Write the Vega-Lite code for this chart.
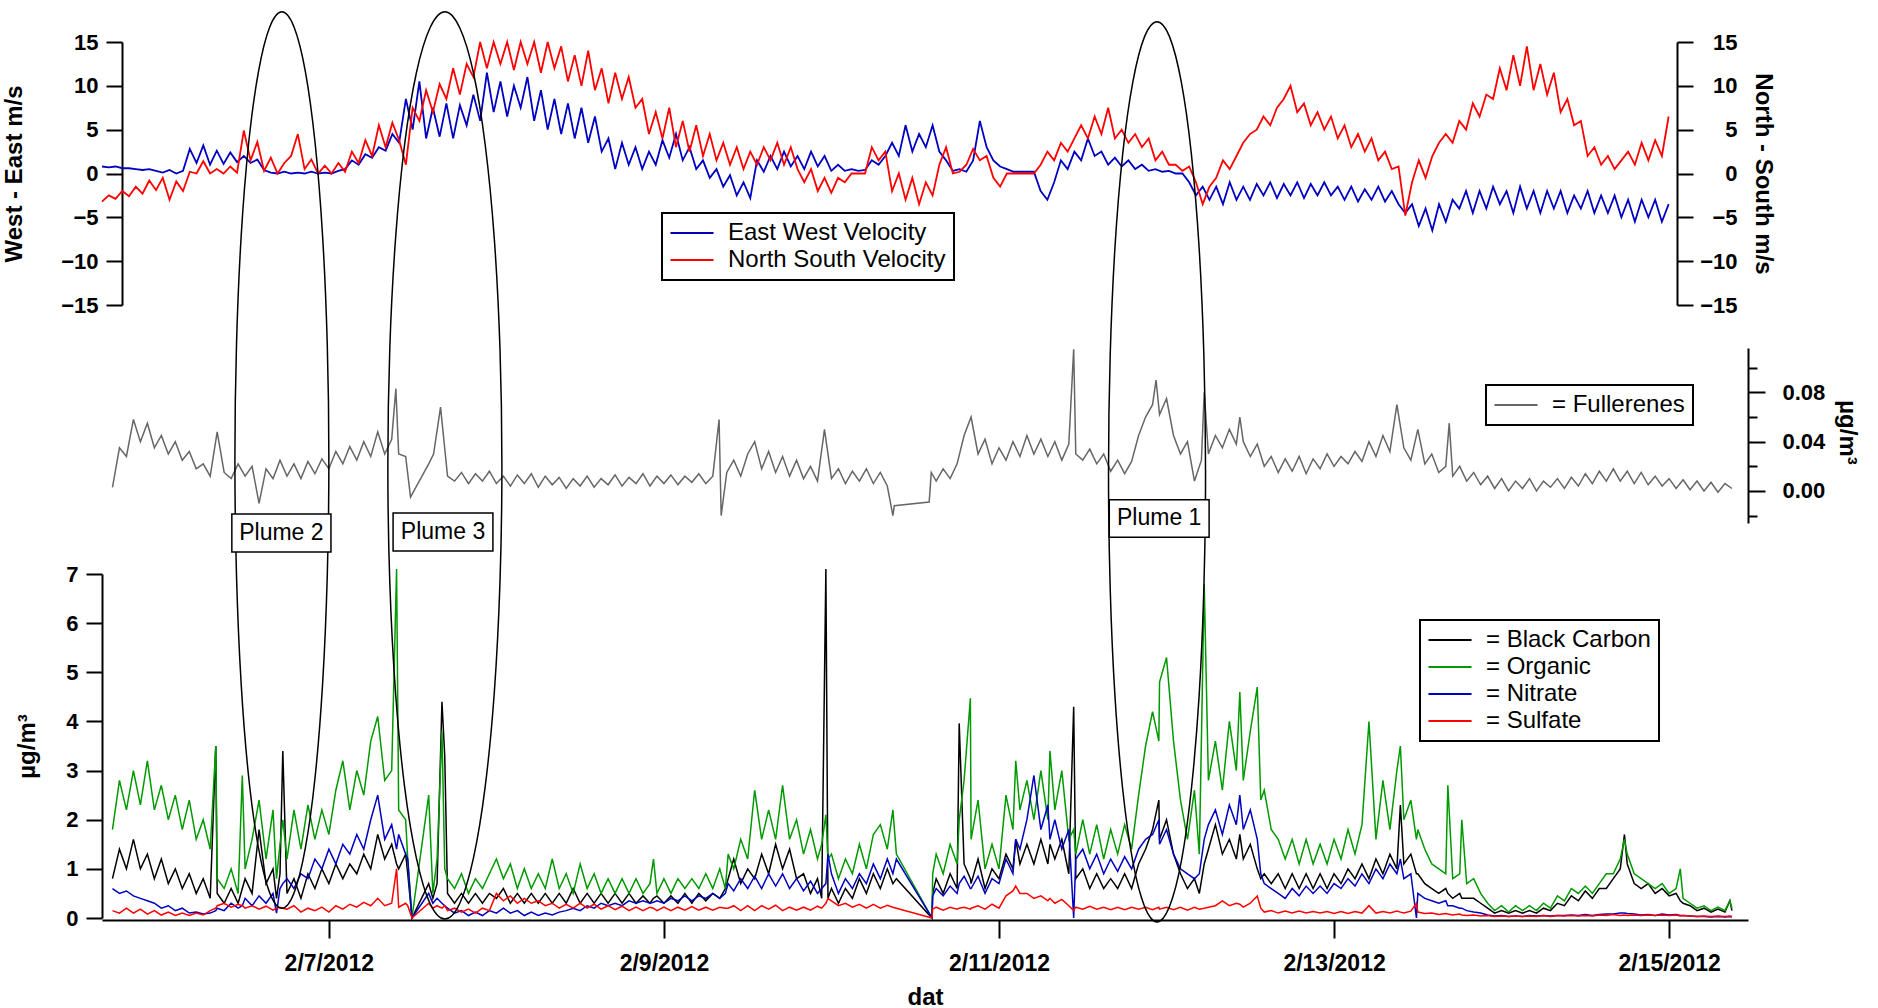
{
  "$schema": "https://vega.github.io/schema/vega-lite/v6.json",
  "width": 1878,
  "height": 1008,
  "autosize": {"type": "none"},
  "padding": 0,
  "background": "white",
  "config": {
    "view": {"stroke": null},
    "axis": {
      "grid": false,
      "domainColor": "black",
      "domainWidth": 2,
      "tickColor": "black",
      "tickWidth": 2,
      "tickSize": 16,
      "labelColor": "black",
      "labelFont": "Liberation Sans",
      "labelFontWeight": "bold",
      "labelFontSize": 22,
      "labelOverlap": false,
      "labelFlush": false,
      "titleColor": "black",
      "titleFont": "Liberation Sans",
      "titleFontWeight": "bold",
      "titleFontSize": 24
    },
    "legend": {
      "labelFont": "Liberation Sans",
      "labelFontSize": 24,
      "labelColor": "black",
      "labelLimit": 0,
      "strokeColor": "black",
      "strokeWidth": 2,
      "fillColor": "white",
      "padding": 8,
      "rowPadding": 3,
      "symbolType": "M-4,0H4",
      "symbolSize": 116,
      "symbolStrokeWidth": 2,
      "symbolOffset": 10,
      "labelOffset": 24
    }
  },
  "datasets": {
    "wind": [
      {"h":17,"e":0.8,"n":-3.2},{"h":18,"e":0.7,"n":-2.5},{"h":19,"e":0.8,"n":-2.9},{"h":20,"e":0.6,"n":-2.0},{"h":21,"e":0.6,"n":-2.6},{"h":22,"e":0.5,"n":-1.5},{"h":23,"e":0.4,"n":-2.3},{"h":24,"e":0.5,"n":-0.8},{"h":25,"e":0.3,"n":-1.9},{"h":26,"e":0.1,"n":-0.5},
      {"h":27,"e":0.4,"n":-3.0},{"h":28,"e":0.0,"n":-0.9},{"h":29,"e":0.3,"n":-2.0},{"h":30,"e":2.8,"n":0.2},{"h":31,"e":1.2,"n":0.0},{"h":32,"e":3.2,"n":1.4},{"h":33,"e":1.0,"n":0.0},{"h":34,"e":2.6,"n":0.5},{"h":35,"e":1.1,"n":0.0},{"h":36,"e":2.4,"n":0.8},
      {"h":37,"e":1.3,"n":0.1},{"h":38,"e":2.0,"n":4.9},{"h":39,"e":1.2,"n":1.5},{"h":40,"e":1.6,"n":3.6},{"h":41,"e":0.4,"n":0.3},{"h":42,"e":0.1,"n":1.8},{"h":43,"e":0.0,"n":0.0},{"h":44,"e":0.2,"n":1.2},{"h":45,"e":0.0,"n":2.0},{"h":46,"e":0.1,"n":4.5},
      {"h":47,"e":0.0,"n":0.5},{"h":48,"e":0.2,"n":1.6},{"h":49,"e":0.0,"n":0.0},{"h":50,"e":0.1,"n":0.9},{"h":51,"e":0.0,"n":0.0},{"h":52,"e":0.3,"n":1.2},{"h":53,"e":0.5,"n":0.2},{"h":54,"e":1.5,"n":2.5},{"h":55,"e":1.0,"n":1.2},{"h":56,"e":2.2,"n":3.8},
      {"h":57,"e":1.8,"n":2.0},{"h":58,"e":3.0,"n":5.5},{"h":59,"e":2.6,"n":3.0},{"h":60,"e":4.5,"n":5.8},{"h":61,"e":3.5,"n":3.8},{"h":62,"e":8.5,"n":1.0},{"h":63,"e":5.0,"n":7.5},{"h":64,"e":10.5,"n":6.0},{"h":65,"e":4.0,"n":9.5},{"h":66,"e":7.5,"n":7.0},
      {"h":67,"e":4.2,"n":10.2},{"h":68,"e":8.0,"n":8.5},{"h":69,"e":4.0,"n":12.0},{"h":70,"e":7.8,"n":9.0},{"h":71,"e":5.5,"n":12.5},{"h":72,"e":9.0,"n":11.0},{"h":73,"e":6.0,"n":15},{"h":74,"e":11.5,"n":12.0},{"h":75,"e":7.0,"n":15},{"h":76,"e":10.5,"n":12.5},
      {"h":77,"e":6.5,"n":15},{"h":78,"e":10.0,"n":11.8},{"h":79,"e":7.5,"n":15},{"h":80,"e":11.0,"n":12.5},{"h":81,"e":6.0,"n":15},{"h":82,"e":9.5,"n":11.5},{"h":83,"e":5.0,"n":15},{"h":84,"e":8.5,"n":12.0},{"h":85,"e":4.5,"n":14.5},{"h":86,"e":8.0,"n":10.5},
      {"h":87,"e":4.0,"n":13.5},{"h":88,"e":7.5,"n":10.0},{"h":89,"e":3.5,"n":14.0},{"h":90,"e":6.5,"n":9.5},{"h":91,"e":2.5,"n":12.0},{"h":92,"e":4.0,"n":8.0},{"h":93,"e":0.5,"n":11.5},{"h":94,"e":3.5,"n":8.5},{"h":95,"e":1.0,"n":11.0},{"h":96,"e":3.0,"n":7.5},
      {"h":97,"e":0.5,"n":8.5},{"h":98,"e":2.5,"n":4.5},{"h":99,"e":1.0,"n":7.0},{"h":100,"e":3.8,"n":4.0},{"h":101,"e":1.8,"n":7.5},{"h":102,"e":4.5,"n":3.0},{"h":103,"e":1.5,"n":6.0},{"h":104,"e":3.0,"n":2.5},{"h":105,"e":0.5,"n":5.5},{"h":106,"e":1.5,"n":2.0},
      {"h":107,"e":-0.5,"n":4.5},{"h":108,"e":0.5,"n":1.5},{"h":109,"e":-1.5,"n":3.5},{"h":110,"e":-0.2,"n":1.0},{"h":111,"e":-2.5,"n":3.0},{"h":112,"e":-1.0,"n":0.5},{"h":113,"e":-2.8,"n":2.5},{"h":114,"e":1.5,"n":1.0},{"h":115,"e":0.2,"n":3.0},{"h":116,"e":2.0,"n":1.5},
      {"h":117,"e":0.5,"n":3.5},{"h":118,"e":2.5,"n":1.0},{"h":119,"e":0.8,"n":3.0},{"h":120,"e":2.0,"n":0.5},{"h":121,"e":0.5,"n":-1.0},{"h":122,"e":2.5,"n":0.5},{"h":123,"e":0.8,"n":-2.0},{"h":124,"e":2.0,"n":-0.5},{"h":125,"e":0.3,"n":-2.2},{"h":126,"e":1.0,"n":-0.5},
      {"h":127,"e":0.3,"n":-1.0},{"h":128,"e":0.5,"n":0.0},{"h":129,"e":0.3,"n":0.0},{"h":130,"e":0.4,"n":0.0},{"h":131,"e":1.5,"n":3.0},{"h":132,"e":1.0,"n":1.5},{"h":133,"e":2.0,"n":2.5},{"h":134,"e":3.5,"n":-2.0},{"h":135,"e":2.0,"n":0.0},{"h":136,"e":5.5,"n":-3.0},
      {"h":137,"e":2.5,"n":-0.5},{"h":138,"e":4.5,"n":-3.5},{"h":139,"e":3.0,"n":-1.0},{"h":140,"e":5.5,"n":-2.5},{"h":141,"e":2.5,"n":1.0},{"h":142,"e":1.5,"n":3.0},{"h":143,"e":0.3,"n":0.0},{"h":144,"e":0.5,"n":0.2},{"h":145,"e":0.2,"n":1.0},{"h":146,"e":1.5,"n":2.8},
      {"h":147,"e":6.0,"n":1.5},{"h":148,"e":3.0,"n":2.0},{"h":149,"e":1.5,"n":-0.5},{"h":150,"e":0.8,"n":-1.5},{"h":151,"e":0.5,"n":0.0},{"h":152,"e":0.2,"n":0.0},{"h":153,"e":0.2,"n":0.0},{"h":154,"e":0.2,"n":0.0},{"h":155,"e":0.2,"n":0.0},{"h":156,"e":-2.0,"n":1.0},
      {"h":157,"e":-3.0,"n":2.5},{"h":158,"e":-1.0,"n":1.5},{"h":159,"e":1.5,"n":3.5},{"h":160,"e":0.5,"n":2.5},{"h":161,"e":2.5,"n":4.0},{"h":162,"e":1.5,"n":5.5},{"h":163,"e":4.0,"n":4.0},{"h":164,"e":2.0,"n":6.5},{"h":165,"e":2.5,"n":4.5},{"h":166,"e":1.0,"n":7.5},
      {"h":167,"e":1.8,"n":4.0},{"h":168,"e":0.8,"n":5.0},{"h":169,"e":1.5,"n":3.5},{"h":170,"e":0.5,"n":4.5},{"h":171,"e":1.0,"n":3.0},{"h":172,"e":0.3,"n":4.0},{"h":173,"e":0.5,"n":1.5},{"h":174,"e":0.2,"n":2.5},{"h":175,"e":0.3,"n":1.0},{"h":176,"e":0.0,"n":1.0},
      {"h":177,"e":0.0,"n":0.3},{"h":178,"e":-1.0,"n":0.8},{"h":179,"e":-2.5,"n":-1.0},{"h":180,"e":-1.5,"n":-3.5},{"h":181,"e":-3.0,"n":-1.5},{"h":182,"e":-1.5,"n":-0.5},{"h":183,"e":-3.5,"n":1.5},{"h":184,"e":-1.0,"n":0.5},{"h":185,"e":-3.0,"n":2.0},{"h":186,"e":-1.5,"n":3.5},
      {"h":187,"e":-3.0,"n":4.5},{"h":188,"e":-1.2,"n":5.0},{"h":189,"e":-2.5,"n":6.5},{"h":190,"e":-1.0,"n":5.5},{"h":191,"e":-2.8,"n":7.5},{"h":192,"e":-1.2,"n":8.5},{"h":193,"e":-2.5,"n":10.0},{"h":194,"e":-1.0,"n":7.0},{"h":195,"e":-2.8,"n":8.0},{"h":196,"e":-1.2,"n":5.5},
      {"h":197,"e":-2.5,"n":7.0},{"h":198,"e":-1.0,"n":5.0},{"h":199,"e":-2.5,"n":6.5},{"h":200,"e":-1.5,"n":4.0},{"h":201,"e":-3.0,"n":5.5},{"h":202,"e":-1.5,"n":3.0},{"h":203,"e":-3.2,"n":4.5},{"h":204,"e":-1.8,"n":2.5},{"h":205,"e":-3.0,"n":4.0},{"h":206,"e":-1.5,"n":1.5},
      {"h":207,"e":-3.2,"n":2.5},{"h":208,"e":-2.0,"n":0.5},{"h":209,"e":-3.5,"n":0.8},{"h":210,"e":-4.5,"n":-4.8},{"h":211,"e":-3.5,"n":-1.0},{"h":212,"e":-6.0,"n":1.5},{"h":213,"e":-4.0,"n":-0.5},{"h":214,"e":-6.5,"n":2.0},{"h":215,"e":-3.5,"n":3.5},{"h":216,"e":-5.5,"n":4.5},
      {"h":217,"e":-3.0,"n":3.5},{"h":218,"e":-4.0,"n":6.0},{"h":219,"e":-2.0,"n":5.0},{"h":220,"e":-4.5,"n":8.0},{"h":221,"e":-2.0,"n":6.5},{"h":222,"e":-4.0,"n":9.0},{"h":223,"e":-1.5,"n":8.5},{"h":224,"e":-3.5,"n":12.0},{"h":225,"e":-2.0,"n":9.5},{"h":226,"e":-4.5,"n":13.5},
      {"h":227,"e":-1.5,"n":10.0},{"h":228,"e":-4.0,"n":14.5},{"h":229,"e":-2.0,"n":9.5},{"h":230,"e":-4.5,"n":12.5},{"h":231,"e":-2.0,"n":9.0},{"h":232,"e":-4.0,"n":11.5},{"h":233,"e":-2.0,"n":7.0},{"h":234,"e":-4.5,"n":8.5},{"h":235,"e":-2.5,"n":5.5},{"h":236,"e":-4.0,"n":6.0},
      {"h":237,"e":-2.0,"n":2.0},{"h":238,"e":-4.5,"n":3.0},{"h":239,"e":-2.5,"n":1.0},{"h":240,"e":-4.5,"n":2.0},{"h":241,"e":-2.5,"n":0.5},{"h":242,"e":-5.0,"n":1.5},{"h":243,"e":-3.0,"n":2.5},{"h":244,"e":-5.5,"n":1.0},{"h":245,"e":-3.0,"n":3.5},{"h":246,"e":-5.0,"n":1.5},
      {"h":247,"e":-3.0,"n":3.8},{"h":248,"e":-5.5,"n":2.0},{"h":249,"e":-3.5,"n":6.5}
    ],
    "full": [
      {"h":17,"f":0.003},{"h":18,"f":0.035},{"h":19,"f":0.028},{"h":20,"f":0.058},{"h":21,"f":0.040},{"h":22,"f":0.055},{"h":23,"f":0.035},{"h":24,"f":0.045},{"h":25,"f":0.030},{"h":26,"f":0.040},
      {"h":27,"f":0.025},{"h":28,"f":0.032},{"h":29,"f":0.018},{"h":30,"f":0.022},{"h":31,"f":0.012},{"h":32,"f":0.048},{"h":33,"f":0.015},{"h":34,"f":0.010},{"h":35,"f":0.022},{"h":36,"f":0.012},
      {"h":37,"f":0.020},{"h":38,"f":-0.010},{"h":39,"f":0.018},{"h":40,"f":0.010},{"h":41,"f":0.025},{"h":42,"f":0.012},{"h":43,"f":0.022},{"h":44,"f":0.010},{"h":45,"f":0.024},{"h":46,"f":0.014},
      {"h":47,"f":0.026},{"h":48,"f":0.018},{"h":49,"f":0.032},{"h":50,"f":0.022},{"h":51,"f":0.036},{"h":52,"f":0.025},{"h":53,"f":0.040},{"h":54,"f":0.028},{"h":55,"f":0.048},{"h":56,"f":0.030},
      {"h":57,"f":0.042},{"h":57.6,"f":0.083},{"h":58,"f":0.030},{"h":59,"f":0.028},{"h":59.7,"f":-0.005},{"h":62.3,"f":0.022},{"h":63,"f":0.030},{"h":64,"f":0.068},{"h":65,"f":0.012},{"h":66,"f":0.008},
      {"h":67,"f":0.015},{"h":68,"f":0.006},{"h":69,"f":0.014},{"h":70,"f":0.008},{"h":71,"f":0.016},{"h":72,"f":0.006},{"h":73,"f":0.012},{"h":74,"f":0.004},{"h":75,"f":0.013},{"h":76,"f":0.006},
      {"h":77,"f":0.014},{"h":78,"f":0.003},{"h":79,"f":0.012},{"h":80,"f":0.005},{"h":81,"f":0.011},{"h":82,"f":0.002},{"h":83,"f":0.010},{"h":84,"f":0.004},{"h":85,"f":0.012},{"h":86,"f":0.003},
      {"h":87,"f":0.010},{"h":88,"f":0.005},{"h":89,"f":0.013},{"h":90,"f":0.004},{"h":91,"f":0.011},{"h":92,"f":0.006},{"h":93,"f":0.014},{"h":94,"f":0.004},{"h":95,"f":0.012},{"h":96,"f":0.006},
      {"h":97,"f":0.013},{"h":98,"f":0.005},{"h":99,"f":0.012},{"h":100,"f":0.007},{"h":101,"f":0.014},{"h":102,"f":0.006},{"h":103,"f":0.012},{"h":103.9,"f":0.058},{"h":104.2,"f":-0.020},{"h":105,"f":0.015},
      {"h":106,"f":0.025},{"h":107,"f":0.012},{"h":108,"f":0.030},{"h":109,"f":0.040},{"h":110,"f":0.018},{"h":111,"f":0.032},{"h":112,"f":0.015},{"h":113,"f":0.028},{"h":114,"f":0.012},{"h":115,"f":0.025},
      {"h":116,"f":0.010},{"h":117,"f":0.020},{"h":118,"f":0.008},{"h":119,"f":0.050},{"h":120,"f":0.010},{"h":121,"f":0.018},{"h":122,"f":0.006},{"h":123,"f":0.016},{"h":124,"f":0.008},{"h":125,"f":0.018},
      {"h":126,"f":0.006},{"h":127,"f":0.015},{"h":128,"f":0.004},{"h":128.8,"f":-0.020},{"h":129,"f":-0.012},{"h":134,"f":-0.009},{"h":134.3,"f":0.015},{"h":135,"f":0.008},{"h":136,"f":0.018},{"h":137,"f":0.010},
      {"h":138,"f":0.022},{"h":139,"f":0.045},{"h":140,"f":0.060},{"h":141,"f":0.030},{"h":142,"f":0.042},{"h":143,"f":0.022},{"h":144,"f":0.035},{"h":145,"f":0.025},{"h":146,"f":0.040},{"h":147,"f":0.028},
      {"h":148,"f":0.045},{"h":149,"f":0.030},{"h":150,"f":0.042},{"h":151,"f":0.028},{"h":152,"f":0.040},{"h":153,"f":0.025},{"h":154,"f":0.038},{"h":154.7,"f":0.115},{"h":155,"f":0.030},{"h":156,"f":0.025},
      {"h":157,"f":0.034},{"h":158,"f":0.022},{"h":159,"f":0.030},{"h":160,"f":0.016},{"h":161,"f":0.025},{"h":162,"f":0.014},{"h":163,"f":0.024},{"h":164,"f":0.045},{"h":165,"f":0.060},{"h":166,"f":0.070},
      {"h":166.5,"f":0.090},{"h":167,"f":0.062},{"h":168,"f":0.075},{"h":169,"f":0.045},{"h":170,"f":0.030},{"h":171,"f":0.040},{"h":172,"f":0.008},{"h":173,"f":0.025},{"h":173.4,"f":0.080},{"h":174,"f":0.030},
      {"h":175,"f":0.045},{"h":176,"f":0.035},{"h":177,"f":0.050},{"h":178,"f":0.038},{"h":178.5,"f":0.060},{"h":179,"f":0.040},{"h":180,"f":0.028},{"h":181,"f":0.038},{"h":182,"f":0.020},{"h":183,"f":0.028},
      {"h":184,"f":0.015},{"h":185,"f":0.026},{"h":186,"f":0.016},{"h":187,"f":0.028},{"h":188,"f":0.014},{"h":189,"f":0.026},{"h":190,"f":0.018},{"h":191,"f":0.030},{"h":192,"f":0.020},{"h":193,"f":0.028},
      {"h":194,"f":0.022},{"h":195,"f":0.032},{"h":196,"f":0.024},{"h":197,"f":0.040},{"h":198,"f":0.028},{"h":199,"f":0.045},{"h":200,"f":0.032},{"h":201,"f":0.070},{"h":202,"f":0.035},{"h":203,"f":0.025},
      {"h":204,"f":0.050},{"h":205,"f":0.022},{"h":206,"f":0.030},{"h":207,"f":0.015},{"h":208,"f":0.020},{"h":208.5,"f":0.055},{"h":209,"f":0.012},{"h":210,"f":0.020},{"h":211,"f":0.008},{"h":212,"f":0.015},
      {"h":213,"f":0.005},{"h":214,"f":0.012},{"h":215,"f":0.002},{"h":216,"f":0.010},{"h":217,"f":0.000},{"h":218,"f":0.008},{"h":219,"f":0.002},{"h":220,"f":0.010},{"h":221,"f":0.000},{"h":222,"f":0.008},
      {"h":223,"f":0.003},{"h":224,"f":0.010},{"h":225,"f":0.002},{"h":226,"f":0.011},{"h":227,"f":0.004},{"h":228,"f":0.014},{"h":229,"f":0.006},{"h":230,"f":0.016},{"h":231,"f":0.008},{"h":232,"f":0.018},
      {"h":233,"f":0.008},{"h":234,"f":0.016},{"h":235,"f":0.006},{"h":236,"f":0.015},{"h":237,"f":0.005},{"h":238,"f":0.012},{"h":239,"f":0.004},{"h":240,"f":0.010},{"h":241,"f":0.002},{"h":242,"f":0.009},
      {"h":243,"f":0.001},{"h":244,"f":0.008},{"h":245,"f":0.000},{"h":246,"f":0.007},{"h":247,"f":-0.001},{"h":248,"f":0.006},{"h":249,"f":0.002}
    ],
    "aer": [
      {"h":17,"b":0.8,"o":1.8,"n":0.6,"s":0.15},{"h":18,"b":1.4,"o":2.8,"n":0.5,"s":0.1},{"h":19,"b":1.0,"o":2.2,"n":0.55,"s":0.2},{"h":20,"b":1.6,"o":3.0,"n":0.45,"s":0.1},{"h":21,"b":1.0,"o":2.3,"n":0.4,"s":0.18},
      {"h":22,"b":1.3,"o":3.2,"n":0.35,"s":0.08},{"h":23,"b":0.8,"o":2.2,"n":0.3,"s":0.15},{"h":24,"b":1.2,"o":2.7,"n":0.2,"s":0.06},{"h":25,"b":0.7,"o":2.0,"n":0.25,"s":0.12},{"h":26,"b":1.0,"o":2.5,"n":0.15,"s":0.05},
      {"h":27,"b":0.6,"o":1.8,"n":0.2,"s":0.1},{"h":28,"b":0.9,"o":2.4,"n":0.1,"s":0.05},{"h":29,"b":0.5,"o":1.6,"n":0.12,"s":0.1},{"h":30,"b":0.8,"o":2.0,"n":0.08,"s":0.06},{"h":31,"b":0.4,"o":1.4,"n":0.1,"s":0.15},
      {"h":31.8,"b":3.5,"o":3.5,"n":0.15,"s":0.2},{"h":32,"b":0.5,"o":0.8,"n":0.2,"s":0.25},{"h":33,"b":0.3,"o":0.6,"n":0.15,"s":0.3},{"h":34,"b":0.6,"o":1.0,"n":0.3,"s":0.22},{"h":35,"b":0.3,"o":0.5,"n":0.2,"s":0.28},
      {"h":35.6,"b":0.6,"o":2.9,"n":0.25,"s":0.25},{"h":36,"b":0.8,"o":1.0,"n":0.4,"s":0.2},{"h":37,"b":0.5,"o":1.6,"n":0.25,"s":0.25},{"h":38,"b":1.8,"o":2.4,"n":0.45,"s":0.18},{"h":39,"b":0.7,"o":1.2,"n":0.3,"s":0.24},
      {"h":40,"b":1.0,"o":2.2,"n":0.5,"s":0.16},{"h":40.5,"b":0.4,"o":0.8,"n":0.1,"s":0.2},{"h":41,"b":0.9,"o":1.5,"n":0.6,"s":0.22},{"h":41.4,"b":3.4,"o":2.0,"n":0.7,"s":0.2},{"h":42,"b":0.5,"o":1.2,"n":0.8,"s":0.18},
      {"h":43,"b":0.8,"o":2.2,"n":0.6,"s":0.25},{"h":44,"b":0.4,"o":1.4,"n":0.9,"s":0.12},{"h":45,"b":0.9,"o":2.3,"n":0.8,"s":0.2},{"h":46,"b":0.6,"o":1.6,"n":1.2,"s":0.15},{"h":47,"b":1.0,"o":2.2,"n":1.0,"s":0.22},
      {"h":48,"b":0.7,"o":1.7,"n":1.4,"s":0.12},{"h":49,"b":1.1,"o":2.6,"n":1.1,"s":0.25},{"h":50,"b":0.8,"o":3.2,"n":1.5,"s":0.18},{"h":51,"b":1.1,"o":2.2,"n":1.3,"s":0.28},{"h":52,"b":0.9,"o":3.0,"n":1.7,"s":0.22},
      {"h":53,"b":1.3,"o":2.5,"n":1.4,"s":0.32},{"h":54,"b":1.0,"o":3.6,"n":2.0,"s":0.25},{"h":55,"b":1.7,"o":4.1,"n":2.5,"s":0.4},{"h":56,"b":1.2,"o":2.8,"n":1.6,"s":0.25},{"h":57,"b":1.5,"o":3.0,"n":1.9,"s":0.3},
      {"h":57.7,"b":1.1,"o":7.1,"n":1.4,"s":1.0},{"h":58,"b":1.0,"o":2.2,"n":1.7,"s":0.22},{"h":59,"b":1.3,"o":2.0,"n":1.3,"s":0.3},{"h":59.3,"b":0.9,"o":1.2,"n":1.2,"s":0.25},{"h":59.9,"b":0,"o":0,"n":0,"s":0},
      {"h":62.3,"b":0.7,"o":2.5,"n":0.5,"s":0.3},{"h":62.9,"b":0.4,"o":0.5,"n":0.3,"s":0.2},{"h":63.5,"b":0.7,"o":1.2,"n":0.4,"s":0.25},{"h":64.2,"b":4.4,"o":3.8,"n":0.3,"s":0.2},{"h":64.6,"b":3.3,"o":1.0,"n":0.25,"s":0.25},
      {"h":65,"b":0.5,"o":0.8,"n":0.2,"s":0.15},{"h":66,"b":0.3,"o":0.6,"n":0.1,"s":0.2},{"h":67,"b":0.5,"o":0.9,"n":0.15,"s":0.12},{"h":68,"b":0.3,"o":0.5,"n":0.05,"s":0.18},{"h":69,"b":0.5,"o":0.8,"n":0.12,"s":0.1},
      {"h":70,"b":0.3,"o":0.6,"n":0.05,"s":0.2},{"h":71,"b":0.5,"o":0.9,"n":0.15,"s":0.15},{"h":72,"b":0.4,"o":1.2,"n":0.1,"s":0.5},{"h":73,"b":0.6,"o":0.8,"n":0.2,"s":0.35},{"h":74,"b":0.3,"o":1.1,"n":0.1,"s":0.45},
      {"h":75,"b":0.5,"o":0.6,"n":0.15,"s":0.3},{"h":76,"b":0.3,"o":1.0,"n":0.05,"s":0.4},{"h":77,"b":0.5,"o":0.6,"n":0.12,"s":0.3},{"h":78,"b":0.3,"o":0.9,"n":0.05,"s":0.35},{"h":79,"b":0.5,"o":0.6,"n":0.1,"s":0.25},
      {"h":80,"b":0.3,"o":1.2,"n":0.06,"s":0.3},{"h":81,"b":0.5,"o":0.6,"n":0.12,"s":0.2},{"h":82,"b":0.3,"o":0.9,"n":0.15,"s":0.28},{"h":83,"b":0.6,"o":0.5,"n":0.2,"s":0.2},{"h":84,"b":0.3,"o":1.1,"n":0.15,"s":0.3},
      {"h":85,"b":0.5,"o":0.6,"n":0.25,"s":0.2},{"h":86,"b":0.3,"o":0.9,"n":0.2,"s":0.28},{"h":87,"b":0.5,"o":0.5,"n":0.3,"s":0.18},{"h":88,"b":0.3,"o":0.8,"n":0.25,"s":0.25},{"h":89,"b":0.5,"o":0.5,"n":0.3,"s":0.17},
      {"h":90,"b":0.3,"o":0.8,"n":0.25,"s":0.24},{"h":91,"b":0.5,"o":0.5,"n":0.35,"s":0.15},{"h":92,"b":0.3,"o":0.8,"n":0.3,"s":0.22},{"h":93,"b":0.45,"o":0.5,"n":0.35,"s":0.15},{"h":94,"b":0.3,"o":0.7,"n":0.3,"s":0.22},
      {"h":94.5,"b":0.4,"o":1.2,"n":0.32,"s":0.2},{"h":95,"b":0.45,"o":0.5,"n":0.35,"s":0.15},{"h":96,"b":0.3,"o":0.8,"n":0.3,"s":0.22},{"h":97,"b":0.45,"o":0.5,"n":0.4,"s":0.15},{"h":98,"b":0.3,"o":0.8,"n":0.35,"s":0.22},
      {"h":99,"b":0.5,"o":0.6,"n":0.45,"s":0.16},{"h":100,"b":0.3,"o":0.8,"n":0.35,"s":0.23},{"h":101,"b":0.5,"o":0.6,"n":0.45,"s":0.16},{"h":102,"b":0.35,"o":0.9,"n":0.4,"s":0.22},{"h":103,"b":0.5,"o":0.6,"n":0.5,"s":0.16},
      {"h":104,"b":0.4,"o":1.0,"n":0.4,"s":0.22},{"h":104.8,"b":0.6,"o":0.6,"n":0.5,"s":0.2},{"h":105.2,"b":0.8,"o":1.3,"n":0.7,"s":0.2},{"h":106,"b":1.2,"o":1.0,"n":0.55,"s":0.25},{"h":107,"b":0.7,"o":1.6,"n":0.8,"s":0.15},
      {"h":108,"b":1.0,"o":1.2,"n":0.6,"s":0.25},{"h":109,"b":0.8,"o":2.6,"n":0.85,"s":0.15},{"h":110,"b":1.3,"o":1.6,"n":0.6,"s":0.25},{"h":111,"b":0.9,"o":2.2,"n":0.9,"s":0.18},{"h":112,"b":1.5,"o":1.6,"n":0.65,"s":0.26},
      {"h":113,"b":1.0,"o":2.7,"n":0.9,"s":0.15},{"h":114,"b":1.4,"o":1.6,"n":0.6,"s":0.22},{"h":115,"b":0.8,"o":2.0,"n":0.8,"s":0.16},{"h":116,"b":0.9,"o":1.3,"n":0.55,"s":0.22},{"h":117,"b":0.5,"o":1.8,"n":0.75,"s":0.16},
      {"h":118,"b":0.8,"o":1.2,"n":0.5,"s":0.24},{"h":118.6,"b":0.4,"o":1.5,"n":0.6,"s":0.2},{"h":119.2,"b":7.1,"o":2.1,"n":0.7,"s":0.3},{"h":119.5,"b":0.4,"o":1.2,"n":1.3,"s":0.4},{"h":120,"b":0.6,"o":1.3,"n":0.9,"s":0.35},
      {"h":121,"b":0.3,"o":0.8,"n":0.5,"s":0.25},{"h":122,"b":0.6,"o":1.2,"n":0.8,"s":0.3},{"h":123,"b":0.4,"o":0.9,"n":0.6,"s":0.22},{"h":124,"b":0.8,"o":1.5,"n":0.9,"s":0.28},{"h":125,"b":0.5,"o":1.0,"n":0.7,"s":0.2},
      {"h":126,"b":0.9,"o":1.7,"n":1.1,"s":0.28},{"h":127,"b":0.6,"o":1.9,"n":0.8,"s":0.2},{"h":128,"b":1.0,"o":1.4,"n":1.2,"s":0.26},{"h":128.8,"b":0.7,"o":2.2,"n":0.9,"s":0.22},{"h":129.3,"b":0.8,"o":1.3,"n":1.2,"s":0.2},
      {"h":134.4,"b":0,"o":0,"n":0,"s":0},{"h":134.5,"b":0.5,"o":0.9,"n":0.45,"s":0.18},{"h":135,"b":0.8,"o":1.3,"n":0.6,"s":0.22},{"h":136,"b":0.5,"o":0.9,"n":0.45,"s":0.16},{"h":137,"b":0.9,"o":1.5,"n":0.65,"s":0.22},
      {"h":138,"b":0.6,"o":1.1,"n":0.5,"s":0.18},{"h":138.3,"b":3.96,"o":2.0,"n":0.7,"s":0.2},{"h":139,"b":1.1,"o":2.8,"n":0.85,"s":0.22},{"h":139.9,"b":0.8,"o":4.47,"n":0.6,"s":0.18},{"h":140,"b":0.7,"o":1.6,"n":0.6,"s":0.2},
      {"h":141,"b":1.2,"o":2.4,"n":0.85,"s":0.25},{"h":142,"b":0.6,"o":1.0,"n":0.5,"s":0.18},{"h":143,"b":1.0,"o":1.5,"n":0.8,"s":0.28},{"h":144,"b":0.8,"o":1.0,"n":0.7,"s":0.2},{"h":145,"b":1.3,"o":2.5,"n":1.2,"s":0.45},
      {"h":146,"b":1.0,"o":1.8,"n":0.9,"s":0.55},{"h":146.4,"b":1.6,"o":3.2,"n":1.6,"s":0.65},{"h":147,"b":1.1,"o":2.2,"n":1.4,"s":0.5},{"h":148,"b":1.5,"o":2.8,"n":2.0,"s":0.5},{"h":149,"b":1.1,"o":2.0,"n":2.9,"s":0.4},
      {"h":150,"b":1.6,"o":3.0,"n":1.8,"s":0.45},{"h":151,"b":1.1,"o":2.0,"n":2.3,"s":0.35},{"h":151.3,"b":1.5,"o":3.4,"n":1.6,"s":0.4},{"h":152,"b":1.2,"o":2.2,"n":2.0,"s":0.3},{"h":153,"b":1.6,"o":3.0,"n":1.4,"s":0.38},
      {"h":154,"b":0.9,"o":1.6,"n":1.8,"s":0.25},{"h":154.7,"b":4.3,"o":1.8,"n":0.0,"s":0.15},{"h":155,"b":0.8,"o":1.3,"n":1.2,"s":0.22},{"h":156,"b":1.0,"o":2.0,"n":1.4,"s":0.18},{"h":157,"b":0.6,"o":1.3,"n":1.0,"s":0.24},
      {"h":158,"b":0.9,"o":1.9,"n":1.3,"s":0.18},{"h":159,"b":0.6,"o":1.2,"n":0.9,"s":0.22},{"h":160,"b":0.8,"o":1.8,"n":1.2,"s":0.17},{"h":161,"b":0.6,"o":1.3,"n":0.95,"s":0.22},{"h":162,"b":0.9,"o":1.9,"n":1.25,"s":0.17},
      {"h":163,"b":0.6,"o":1.4,"n":1.0,"s":0.22},{"h":164,"b":1.1,"o":2.5,"n":1.4,"s":0.18},{"h":165,"b":1.4,"o":3.5,"n":1.6,"s":0.22},{"h":166,"b":1.8,"o":4.2,"n":1.7,"s":0.17},{"h":166.9,"b":2.4,"o":3.6,"n":2.0,"s":0.22},
      {"h":167,"b":1.6,"o":4.8,"n":1.5,"s":0.18},{"h":168,"b":2.0,"o":5.3,"n":1.8,"s":0.22},{"h":169,"b":1.3,"o":3.6,"n":1.3,"s":0.17},{"h":170,"b":0.9,"o":2.4,"n":1.0,"s":0.22},{"h":171,"b":0.6,"o":1.6,"n":0.9,"s":0.16},
      {"h":172,"b":0.8,"o":2.6,"n":0.8,"s":0.22},{"h":172.7,"b":0.5,"o":1.3,"n":0.9,"s":0.18},{"h":173.4,"b":1.1,"o":6.8,"n":1.6,"s":0.2},{"h":174,"b":1.4,"o":2.8,"n":1.9,"s":0.22},{"h":175,"b":1.9,"o":3.6,"n":2.2,"s":0.25},
      {"h":176,"b":1.3,"o":2.6,"n":1.7,"s":0.35},{"h":177,"b":1.6,"o":4.0,"n":2.3,"s":0.25},{"h":178,"b":1.2,"o":3.0,"n":1.9,"s":0.3},{"h":178.5,"b":1.7,"o":4.6,"n":2.5,"s":0.28},{"h":179,"b":1.2,"o":2.8,"n":1.8,"s":0.22},
      {"h":180,"b":1.5,"o":3.8,"n":2.2,"s":0.3},{"h":181,"b":1.0,"o":4.7,"n":1.6,"s":0.45},{"h":181.5,"b":0.8,"o":2.4,"n":0.9,"s":0.2},{"h":182,"b":0.9,"o":2.6,"n":0.7,"s":0.12},{"h":183,"b":0.7,"o":1.8,"n":0.6,"s":0.15},
      {"h":184,"b":0.9,"o":1.6,"n":0.5,"s":0.1},{"h":185,"b":0.6,"o":1.2,"n":0.4,"s":0.14},{"h":186,"b":0.9,"o":1.6,"n":0.6,"s":0.1},{"h":187,"b":0.6,"o":1.1,"n":0.45,"s":0.14},{"h":188,"b":0.9,"o":1.6,"n":0.65,"s":0.1},
      {"h":189,"b":0.6,"o":1.1,"n":0.5,"s":0.13},{"h":190,"b":0.9,"o":1.5,"n":0.65,"s":0.1},{"h":191,"b":0.6,"o":1.1,"n":0.5,"s":0.13},{"h":192,"b":0.9,"o":1.6,"n":0.7,"s":0.09},{"h":193,"b":0.7,"o":1.2,"n":0.6,"s":0.13},
      {"h":194,"b":1.0,"o":1.8,"n":0.8,"s":0.09},{"h":195,"b":0.8,"o":1.3,"n":0.65,"s":0.13},{"h":196,"b":1.1,"o":1.9,"n":0.9,"s":0.1},{"h":197,"b":0.8,"o":4.0,"n":0.7,"s":0.25},{"h":198,"b":1.2,"o":1.6,"n":1.0,"s":0.1},
      {"h":199,"b":0.9,"o":2.8,"n":0.8,"s":0.13},{"h":200,"b":1.3,"o":1.8,"n":1.1,"s":0.1},{"h":201,"b":1.0,"o":3.0,"n":0.9,"s":0.14},{"h":201.5,"b":2.3,"o":3.5,"n":1.2,"s":0.12},{"h":202,"b":1.1,"o":2.0,"n":0.8,"s":0.1},
      {"h":203,"b":1.3,"o":2.4,"n":0.9,"s":0.14},{"h":203.8,"b":0.9,"o":1.6,"n":0.0,"s":0.3},{"h":204,"b":0.9,"o":1.8,"n":0.5,"s":0.12},{"h":205,"b":0.7,"o":1.4,"n":0.4,"s":0.09},{"h":206,"b":0.6,"o":1.1,"n":0.35,"s":0.1},
      {"h":207,"b":0.5,"o":1.0,"n":0.3,"s":0.07},{"h":208,"b":0.6,"o":0.9,"n":0.35,"s":0.09},{"h":208.3,"b":0.5,"o":2.7,"n":0.25,"s":0.08},{"h":209,"b":0.4,"o":0.8,"n":0.25,"s":0.06},{"h":210,"b":0.5,"o":0.9,"n":0.2,"s":0.08},
      {"h":210.3,"b":0.4,"o":2.0,"n":0.2,"s":0.06},{"h":211,"b":0.4,"o":0.7,"n":0.15,"s":0.05},{"h":212,"b":0.4,"o":0.8,"n":0.12,"s":0.06},{"h":213,"b":0.3,"o":0.5,"n":0.1,"s":0.04},{"h":214,"b":0.2,"o":0.3,"n":0.06,"s":0.05},
      {"h":215,"b":0.1,"o":0.15,"n":0.04,"s":0.03},{"h":216,"b":0.15,"o":0.25,"n":0.05,"s":0.04},{"h":217,"b":0.1,"o":0.12,"n":0.03,"s":0.03},{"h":218,"b":0.15,"o":0.25,"n":0.04,"s":0.04},{"h":219,"b":0.1,"o":0.15,"n":0.03,"s":0.03},
      {"h":220,"b":0.15,"o":0.25,"n":0.05,"s":0.04},{"h":221,"b":0.1,"o":0.15,"n":0.04,"s":0.03},{"h":222,"b":0.2,"o":0.3,"n":0.05,"s":0.05},{"h":223,"b":0.15,"o":0.2,"n":0.04,"s":0.03},{"h":224,"b":0.3,"o":0.45,"n":0.05,"s":0.05},
      {"h":225,"b":0.25,"o":0.35,"n":0.05,"s":0.04},{"h":226,"b":0.45,"o":0.6,"n":0.06,"s":0.05},{"h":227,"b":0.35,"o":0.5,"n":0.05,"s":0.04},{"h":228,"b":0.55,"o":0.65,"n":0.07,"s":0.05},{"h":229,"b":0.4,"o":0.5,"n":0.05,"s":0.04},
      {"h":230,"b":0.6,"o":0.7,"n":0.07,"s":0.06},{"h":231,"b":0.6,"o":0.9,"n":0.08,"s":0.05},{"h":232,"b":0.8,"o":0.9,"n":0.08,"s":0.07},{"h":233,"b":1.0,"o":1.2,"n":0.1,"s":0.05},{"h":233.6,"b":1.7,"o":1.6,"n":0.1,"s":0.06},
      {"h":234,"b":1.1,"o":1.3,"n":0.09,"s":0.05},{"h":235,"b":0.7,"o":0.9,"n":0.08,"s":0.06},{"h":236,"b":0.6,"o":0.8,"n":0.06,"s":0.05},{"h":237,"b":0.7,"o":0.7,"n":0.07,"s":0.06},{"h":238,"b":0.5,"o":0.6,"n":0.05,"s":0.05},
      {"h":239,"b":0.6,"o":0.7,"n":0.08,"s":0.06},{"h":240,"b":0.45,"o":0.5,"n":0.06,"s":0.05},{"h":241,"b":0.5,"o":0.6,"n":0.07,"s":0.06},{"h":241.6,"b":0.35,"o":1.0,"n":0.05,"s":0.04},{"h":242,"b":0.3,"o":0.4,"n":0.05,"s":0.05},
      {"h":243,"b":0.25,"o":0.3,"n":0.04,"s":0.04},{"h":244,"b":0.15,"o":0.2,"n":0.03,"s":0.03},{"h":245,"b":0.2,"o":0.25,"n":0.03,"s":0.04},{"h":246,"b":0.12,"o":0.15,"n":0.02,"s":0.03},{"h":247,"b":0.18,"o":0.22,"n":0.03,"s":0.04},
      {"h":248,"b":0.12,"o":0.15,"n":0.02,"s":0.03},{"h":248.7,"b":0.35,"o":0.35,"n":0.03,"s":0.04},{"h":249,"b":0.15,"o":0.2,"n":0.02,"s":0.03}
    ],
    "ell": [
      {"p":2,"i":0,"x":48.00,"y":9.32},{"p":2,"i":1,"x":47.77,"y":11.68},{"p":2,"i":2,"x":47.10,"y":13.88},{"p":2,"i":3,"x":46.03,"y":15.77},{"p":2,"i":4,"x":44.64,"y":17.22},{"p":2,"i":5,"x":43.01,"y":18.13},
      {"p":2,"i":6,"x":41.27,"y":18.44},{"p":2,"i":7,"x":39.53,"y":18.13},{"p":2,"i":8,"x":37.91,"y":17.22},{"p":2,"i":9,"x":36.51,"y":15.77},{"p":2,"i":10,"x":35.44,"y":13.88},{"p":2,"i":11,"x":34.77,"y":11.68},
      {"p":2,"i":12,"x":34.54,"y":9.32},{"p":2,"i":13,"x":34.77,"y":6.96},{"p":2,"i":14,"x":35.44,"y":4.76},{"p":2,"i":15,"x":36.51,"y":2.87},{"p":2,"i":16,"x":37.91,"y":1.43},{"p":2,"i":17,"x":39.53,"y":0.51},
      {"p":2,"i":18,"x":41.27,"y":0.20},{"p":2,"i":19,"x":43.01,"y":0.51},{"p":2,"i":20,"x":44.64,"y":1.43},{"p":2,"i":21,"x":46.03,"y":2.87},{"p":2,"i":22,"x":47.10,"y":4.76},{"p":2,"i":23,"x":47.77,"y":6.96},
      {"p":3,"i":0,"x":72.79,"y":9.21},{"p":3,"i":1,"x":72.51,"y":11.60},{"p":3,"i":2,"x":71.70,"y":13.82},{"p":3,"i":3,"x":70.40,"y":15.73},{"p":3,"i":4,"x":68.71,"y":17.20},{"p":3,"i":5,"x":66.73,"y":18.12},
      {"p":3,"i":6,"x":64.62,"y":18.44},{"p":3,"i":7,"x":62.51,"y":18.12},{"p":3,"i":8,"x":60.54,"y":17.20},{"p":3,"i":9,"x":58.84,"y":15.73},{"p":3,"i":10,"x":57.55,"y":13.82},{"p":3,"i":11,"x":56.73,"y":11.60},
      {"p":3,"i":12,"x":56.45,"y":9.21},{"p":3,"i":13,"x":56.73,"y":6.82},{"p":3,"i":14,"x":57.55,"y":4.59},{"p":3,"i":15,"x":58.84,"y":2.68},{"p":3,"i":16,"x":60.54,"y":1.22},{"p":3,"i":17,"x":62.51,"y":0.29},
      {"p":3,"i":18,"x":64.62,"y":-0.02},{"p":3,"i":19,"x":66.73,"y":0.29},{"p":3,"i":20,"x":68.71,"y":1.22},{"p":3,"i":21,"x":70.40,"y":2.68},{"p":3,"i":22,"x":71.70,"y":4.59},{"p":3,"i":23,"x":72.51,"y":6.82},
      {"p":1,"i":0,"x":173.59,"y":9.08},{"p":1,"i":1,"x":173.35,"y":11.45},{"p":1,"i":2,"x":172.66,"y":13.66},{"p":1,"i":3,"x":171.55,"y":15.56},{"p":1,"i":4,"x":170.12,"y":17.01},{"p":1,"i":5,"x":168.44,"y":17.93},
      {"p":1,"i":6,"x":166.64,"y":18.24},{"p":1,"i":7,"x":164.84,"y":17.93},{"p":1,"i":8,"x":163.17,"y":17.01},{"p":1,"i":9,"x":161.73,"y":15.56},{"p":1,"i":10,"x":160.62,"y":13.66},{"p":1,"i":11,"x":159.93,"y":11.45},
      {"p":1,"i":12,"x":159.69,"y":9.08},{"p":1,"i":13,"x":159.93,"y":6.71},{"p":1,"i":14,"x":160.62,"y":4.50},{"p":1,"i":15,"x":161.73,"y":2.61},{"p":1,"i":16,"x":163.17,"y":1.15},{"p":1,"i":17,"x":164.84,"y":0.24},
      {"p":1,"i":18,"x":166.64,"y":-0.08},{"p":1,"i":19,"x":168.44,"y":0.24},{"p":1,"i":20,"x":170.12,"y":1.15},{"p":1,"i":21,"x":171.55,"y":2.61},{"p":1,"i":22,"x":172.66,"y":4.50},{"p":1,"i":23,"x":173.35,"y":6.71}
    ],
    "box": [
      {"t":"Plume 2","x1":34.1,"x2":48.3,"y1":7.45,"y2":8.22,"xc":41.2,"yc":7.84},
      {"t":"Plume 3","x1":57.2,"x2":71.5,"y1":7.47,"y2":8.24,"xc":64.35,"yc":7.86},
      {"t":"Plume 1","x1":159.8,"x2":174.1,"y1":7.75,"y2":8.51,"xc":166.95,"yc":8.13}
    ]
  },
  "layer": [
    {
      "data": {"name": "wind"},
      "layer": [
        {
          "mark": {"type": "line", "strokeWidth": 1.8},
          "encoding": {
            "x": {"field": "h", "type": "quantitative", "scale": {"domain": [17, 249.2], "range": [102, 1670], "nice": false, "zero": false}, "axis": null},
            "y": {"field": "e", "type": "quantitative", "scale": {"domain": [-15, 15], "range": [305, 42], "nice": false, "zero": false},
              "axis": {"orient": "left", "offset": -122, "values": [-15, -10, -5, 0, 5, 10, 15], "labelPadding": 8, "title": "West - East m/s", "titleX": -108, "titleY": 173.5, "titleBaseline": "middle", "titleAngle": -90}},
            "color": {"datum": "East West Velocity", "type": "nominal",
              "scale": {"domain": ["East West Velocity", "North South Velocity"], "range": ["#0000C0", "#FF0000"]},
              "legend": {"title": null, "orient": "none", "legendX": 662, "legendY": 213}}
          }
        },
        {
          "mark": {"type": "line", "strokeWidth": 1.8},
          "encoding": {
            "x": {"field": "h", "type": "quantitative", "scale": {"domain": [17, 249.2], "range": [102, 1670], "nice": false, "zero": false}, "axis": null},
            "y": {"field": "n", "type": "quantitative", "scale": {"domain": [-15, 15], "range": [305, 42], "nice": false, "zero": false},
              "axis": {"orient": "right", "offset": -201, "values": [-15, -10, -5, 0, 5, 10, 15], "labelAlign": "right", "labelPadding": 44, "title": "North - South m/s", "titleX": 85, "titleY": 173.5, "titleBaseline": "middle", "titleAngle": 90}},
            "color": {"datum": "North South Velocity", "type": "nominal"}
          }
        }
      ],
      "resolve": {"scale": {"y": "independent"}}
    },
    {
      "data": {"name": "full"},
      "mark": {"type": "line", "strokeWidth": 1.5},
      "encoding": {
        "x": {"field": "h", "type": "quantitative", "scale": {"domain": [15.5, 251.3], "range": [102, 1748], "nice": false, "zero": false}, "axis": null},
        "y": {"field": "f", "type": "quantitative", "scale": {"domain": [-0.026, 0.116], "range": [523, 348], "nice": false, "zero": false},
          "axis": {"orient": "right", "offset": -130, "values": [-0.02, 0, 0.02, 0.04, 0.06, 0.08, 0.1],
            "tickSize": {"condition": {"test": "indexof([0, 0.04, 0.08], datum.value) >= 0", "value": 17}, "value": 9},
            "labelExpr": "indexof([0, 0.04, 0.08], datum.value) >= 0 ? format(datum.value, '.2f') : ''",
            "labelFontSize": 22, "labelPadding": 17, "title": "µg/m³", "titleX": 98, "titleY": 432, "titleBaseline": "middle", "titleAngle": 90}},
        "color": {"datum": "= Fullerenes", "type": "nominal", "scale": {"range": ["#666666"]},
          "legend": {"title": null, "orient": "none", "legendX": 1486, "legendY": 385}}
      }
    },
    {
      "layer": [
        {
          "data": {"name": "aer"},
          "transform": [{"fold": ["b", "o", "n", "s"], "as": ["k", "v"]}],
          "mark": {"type": "line", "strokeWidth": 1.5},
          "encoding": {
            "x": {"field": "h", "type": "quantitative", "scale": {"domain": [15.5, 251.3], "range": [102, 1748], "nice": false, "zero": false},
              "axis": {"orient": "bottom", "offset": -88, "values": [48, 96, 144, 192, 240], "labelExpr": "'2/' + (5 + datum.value / 24) + '/2012'", "labelFontSize": 23, "tickSize": 18, "labelPadding": 14, "title": "dat", "titleX": 925, "titleY": 77, "titleBaseline": "middle"}},
            "y": {"field": "v", "type": "quantitative", "scale": {"domain": [0, 7], "range": [918, 574], "nice": false, "zero": false},
              "axis": {"orient": "left", "offset": -102, "values": [0, 1, 2, 3, 4, 5, 6, 7], "format": "d", "labelPadding": 8, "title": "µg/m³", "titleX": -75, "titleY": 746, "titleBaseline": "middle", "titleAngle": -90}},
            "color": {"field": "k", "type": "nominal",
              "scale": {"domain": ["b", "o", "n", "s"], "range": ["#000000", "#009A00", "#0000C0", "#FF0000"]},
              "legend": {"title": null, "orient": "none", "legendX": 1420, "legendY": 620,
                "labelExpr": "datum.label == 'b' ? '= Black Carbon' : datum.label == 'o' ? '= Organic' : datum.label == 'n' ? '= Nitrate' : '= Sulfate'"}}
          }
        },
        {
          "data": {"name": "ell"},
          "mark": {"type": "line", "color": "black", "strokeWidth": 1.5, "interpolate": "cardinal-closed"},
          "encoding": {
            "x": {"field": "x", "type": "quantitative"},
            "y": {"field": "y", "type": "quantitative"},
            "detail": {"field": "p", "type": "nominal"},
            "order": {"field": "i", "type": "quantitative"}
          }
        },
        {
          "data": {"name": "box"},
          "mark": {"type": "rect", "fill": "white", "stroke": "black", "strokeWidth": 1.5},
          "encoding": {
            "x": {"field": "x1", "type": "quantitative"},
            "x2": {"field": "x2"},
            "y": {"field": "y1", "type": "quantitative"},
            "y2": {"field": "y2"}
          }
        },
        {
          "data": {"name": "box"},
          "mark": {"type": "text", "font": "Liberation Sans", "fontSize": 23, "color": "black", "align": "center", "baseline": "middle"},
          "encoding": {
            "x": {"field": "xc", "type": "quantitative"},
            "y": {"field": "yc", "type": "quantitative"},
            "text": {"field": "t"}
          }
        }
      ]
    }
  ],
  "resolve": {"scale": {"x": "independent", "y": "independent", "color": "independent"}}
}
